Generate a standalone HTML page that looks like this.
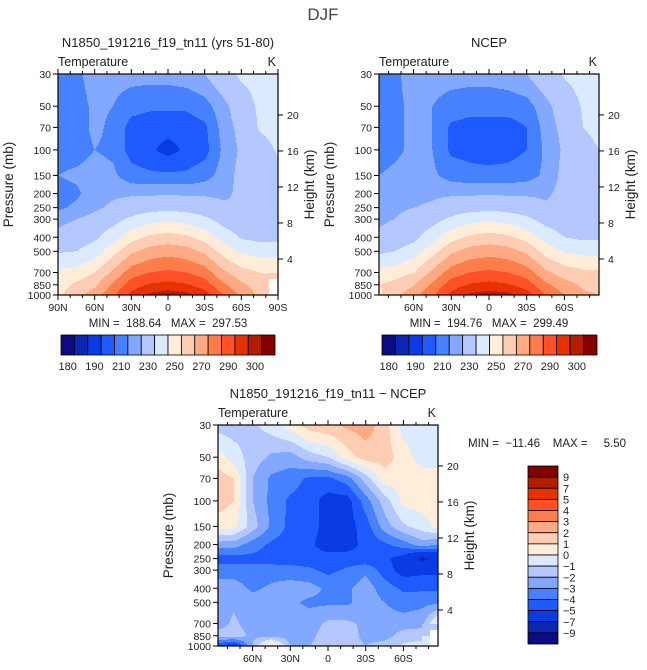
<!DOCTYPE html>
<html><head><meta charset="utf-8">
<style>
body{margin:0;background:#fff;}
svg{display:block;font-family:"Liberation Sans",sans-serif;fill:#222;}
</style></head>
<body>
<svg id="fig" width="647" height="670" viewBox="0 0 647 670" xmlns="http://www.w3.org/2000/svg">
<text x="323" y="20" font-size="17" text-anchor="middle" fill="#444">DJF</text>
</svg>
<script>
// ---- data ----
const pressureLevels=[30,50,70,100,150,200,250,300,400,500,700,850,1000];
const modelLats=[90,75,60,45,30,15,0,-15,-30,-45,-60,-75,-90];
const ncepLats=[87.5,75,60,45,30,15,0,-15,-30,-45,-60,-75,-87.5];
const tempLevels=[185,190,195,200,205,210,220,230,240,250,260,270,280,290,295];
const tempTickLabels=["180","190","210","230","250","270","290","300"];
const diffLevels=[-9,-7,-5,-4,-3,-2,-1,0,1,2,3,4,5,7,9];
const diffTickLabels=["9","7","5","4","3","2","1","0","\u22121","\u22122","\u22123","\u22124","\u22125","\u22127","\u22129"];
const heightTicks=[4,8,12,16,20];
const latTicksModel=["90N","60N","30N","0","30S","60S","90S"];
const latTickValsModel=[90,60,30,0,-30,-60,-90];
const latTicksObs=["60N","30N","0","30S","60S"];
const latTickValsObs=[60,30,0,-30,-60];
const modelT=[
[202,204,207,207,207,207,207,208,210,215,222,224,225],
[203,203,206,205,202,201,201,201,203,208,214,222,224],
[203,203,206,204,198,197,197,197,199,207,212,221,223],
[203,203,205,204,198,196,193,196,198,206,211,216,221],
[205,206,207,206,202,201,201,201,203,207,212,215,217],
[203,204,208,209,209,209,209,209,209,209,211,214,215],
[204,206,209,211,214,216,217,216,214,211,210,211,212],
[208,210,212,216,222,226,228,226,222,216,213,212,212],
[212,214,218,226,236,242,244,242,236,226,219,217,217],
[219,220,225,236,248,254,256,254,248,236,228,226,226],
[232,234,240,252,265,270,272,270,265,252,244,240,240],
[236,242,248,262,275,281,283,281,275,262,252,245,NaN],
[238,246,255,268,283,292,296,293,285,270,258,248,NaN]];
const ncepT=[
[203,204,207,207,207,207,207,208,210,215,221,224,225],
[203,204,206,205,203,202,202,202,203,208,214,221,224],
[203,204,206,205,199,198,198,198,200,207,212,220,223],
[203,204,206,205,199,198,197,198,200,206,211,216,220],
[205,206,207,206,203,202,202,202,203,206,212,216,218],
[207,208,208,209,209,209,209,209,209,209,212,215,216],
[208,209,210,211,214,216,217,216,214,211,211,212,213],
[209,210,212,216,222,226,228,226,222,216,214,213,213],
[211,213,217,226,236,242,244,242,236,226,220,218,218],
[218,220,225,236,248,254,256,254,248,236,229,227,227],
[233,235,240,252,265,270,272,270,265,252,245,242,242],
[240,243,249,262,275,281,283,281,275,262,254,248,246],
[238,247,256,268,283,292,295,293,285,270,260,252,250]];
const diffT=[
[-1.5,-1.5,-1.2,-0.5,0.5,1.5,1.8,2.2,2.5,1.5,-0.5,-0.5,-0.5],
[0.5,-0.5,-1.5,-2.2,-2.5,-1.5,-1,0.5,1.5,1.5,0.5,-0.5,-0.5],
[1.5,1,-2,-3.2,-3.5,-4.2,-4.2,-3.5,-1.5,0.5,0.5,0.5,0.5],
[1.5,1,-2,-3.3,-4.2,-4.5,-5.5,-5.5,-3.5,-1.5,0.3,0.5,0.5],
[0.5,0.3,-1.5,-3.2,-4.3,-4.5,-5.5,-5.5,-4.5,-2.5,-1.2,-0.5,0.3],
[-2.5,-2.5,-3.5,-4.2,-4.5,-4.8,-5.5,-5.3,-4.8,-4.2,-3.5,-2.5,-3],
[-4.5,-4.5,-4.3,-4.5,-4.5,-4.6,-4.6,-4.7,-4.8,-4.8,-5.5,-7.5,-6.5],
[-3.5,-3.5,-3.7,-3.5,-3.6,-3.8,-4.3,-3.8,-3.2,-4.5,-5.5,-5.3,-5.3],
[-2.5,-2.5,-3.2,-2.8,-2.5,-2.6,-3.2,-3.2,-2.5,-3.5,-4.2,-4.2,-4.2],
[-2.5,-2.2,-2.5,-2.8,-2.8,-3.2,-3.2,-3.2,-2.5,-3,-3.5,-3.3,-3.3],
[-2.5,-1.8,-2.5,-2.5,-2.5,-2.5,-1.8,-1.8,-2.2,-2.5,-2.5,-2.3,0.5],
[-1.5,-1.5,-2.2,-2.3,-2.5,-2.3,-1.5,-1.5,-2.3,-2.5,-1.5,-1.5,NaN],
[-5,-6,-2,1.5,-2,-2,-1.5,-1.5,-2,-1.5,-0.8,-0.5,NaN]];
const palette=["#0c0c82","#0a28b4","#0a3ce6","#1e5aff","#4682ff","#82a8ff","#b4c8ff","#dceaff","#ffecd9","#ffcdb4","#ffaa82","#ff7d4b","#ff5028","#e63200","#b41e00","#820000"];
// ---- rendering ----
const svg=document.getElementById('fig');
const NS='http://www.w3.org/2000/svg';
function mk(tag,attrs,parent){const e=document.createElementNS(NS,tag);for(const k in attrs)e.setAttribute(k,attrs[k]);(parent||svg).appendChild(e);return e;}
function txt(x,y,s,size,anchor,parent){const t=mk('text',{x:x,y:y,'font-size':size,'text-anchor':anchor||'middle'},parent);t.textContent=s;return t;}
const P0=Math.log(30),P1=Math.log(1000);
function panel(name,L,T,W,H,latMax,lats,grid,levels,latTicks,latVals,title,minmax,mmPos){
  const g=mk('g',{});
  
  
  const xOf=lat=>L+(latMax-lat)/(2*latMax)*W;
  const yOf=p=>T+(Math.log(p)-P0)/(P1-P0)*H;
  const gx=lats.map(xOf), gy=pressureLevels.map(yOf);
  function sample(px,py){
    let j=0;while(j<gx.length-2&&px>gx[j+1])j++;
    let i=0;while(i<gy.length-2&&py>gy[i+1])i++;
    let fx=(px-gx[j])/(gx[j+1]-gx[j]);fx=Math.max(0,Math.min(1,fx));
    let fy=(py-gy[i])/(gy[i+1]-gy[i]);fy=Math.max(0,Math.min(1,fy));
    const a=grid[i][j],b=grid[i][j+1],c=grid[i+1][j],d=grid[i+1][j+1];
    if([a,b,c,d].some(isNaN)){
      const n=grid[i+(fy>0.5?1:0)][j+(fx>0.5?1:0)];
      if(isNaN(n))return NaN;
      const vals=[a,b,c,d].filter(v=>!isNaN(v));return vals.reduce((s,v)=>s+v,0)/vals.length;
    }
    return a*(1-fx)*(1-fy)+b*fx*(1-fy)+c*(1-fx)*fy+d*fx*fy;
  }
  function idx(v){if(isNaN(v))return -1;let k=0;while(k<levels.length&&v>=levels[k])k++;return k;}
  const fill=mk('g',{'shape-rendering':'crispEdges'},g);
  
  
  for(let y=0;y<H;y++){
    let start=0,cur=idx(sample(L+0.5,T+y+0.5));
    for(let x=1;x<=W;x++){
      const k=x<W?idx(sample(L+x+0.5,T+y+0.5)):-99;
      if(k!==cur){
        if(cur>=0)mk('rect',{x:L+start,y:T+y,width:x-start,height:1,fill:palette[cur]},fill);
        start=x;cur=k;
      }
    }
  }
  const frame=mk('rect',{x:L,y:T,width:W,height:H,fill:'none',stroke:'#000','stroke-width':1.2},g);
  
  
  pressureLevels.forEach(p=>{const y=yOf(p);mk('line',{x1:L-5,x2:L,y1:y,y2:y,stroke:'#000'},g);const t=txt(L-7,y+4,String(p),10.5,'end',g);});
  heightTicks.forEach(z=>{const p=1000*Math.exp(-z/7);const y=yOf(p);mk('line',{x1:L+W,x2:L+W+5,y1:y,y2:y,stroke:'#000'},g);const t=txt(L+W+9,y+4,String(z),10.5,'start',g);});
  for(let lat=-90;lat<=90;lat+=10){if(Math.abs(lat)>latMax+0.01)continue;const x=xOf(lat);const major=lat%30===0;
    mk('line',{x1:x,x2:x,y1:T+H,y2:T+H+(major?5:3),stroke:'#000'},g);mk('line',{x1:x,x2:x,y1:T,y2:T-(major?5:3),stroke:'#000'},g);}
  latTicks.forEach((s,i)=>{const t=txt(xOf(latVals[i]),T+H+16,s,10.5,'middle',g);});
  let t=txt(L,T-8,'Temperature',12.5,'start',g);
  t=txt(L+W-2,T-8,'K',12.5,'end',g);
  t=txt(L+W/2,T-27,title,13,'middle',g);
  t=mk('text',{x:0,y:0,'font-size':13.5,'text-anchor':'middle',transform:`translate(${L-45},${T+H/2}) rotate(-90)`},g);t.textContent='Pressure (mb)';
  
  t=mk('text',{x:0,y:0,'font-size':13.5,'text-anchor':'middle',transform:`translate(${L+W+36},${T+H/2}) rotate(-90)`},g);t.textContent='Height (km)';
  
  t=mk('text',{x:mmPos[0],y:mmPos[1],'font-size':11.5,'text-anchor':mmPos[2],style:'white-space:pre'},g);t.textContent=minmax;
  
}
panel('model-panel',58,74,220,221,90,modelLats,modelT,tempLevels,latTicksModel,latTickValsModel,'N1850_191216_f19_tn11 (yrs 51-80)','MIN =  188.64   MAX =  297.53',[168,327,'middle']);
panel('ncep-panel',379,74,220,221,87.5,ncepLats,ncepT,tempLevels,latTicksObs,latTickValsObs,'NCEP','MIN =  194.76   MAX =  299.49',[489,327,'middle']);
panel('diff-panel',218,425,220,221,87.5,ncepLats,diffT,diffLevels,latTicksObs,latTickValsObs,'N1850_191216_f19_tn11 \u2212 NCEP','MIN =  \u221211.46    MAX =     5.50',[468,447,'start']);
function hbar(name,L,T,W,H){
  const g=mk('g',{});
  const bw=W/palette.length;
  palette.forEach((c,i)=>{const r=mk('rect',{x:L+i*bw,y:T,width:bw,height:H,fill:c,stroke:'#000','stroke-width':0.8},g);});
  tempTickLabels.forEach((s,i)=>{const t=txt(L+bw*(0.5+2*i),T+H+15,s,11,'middle',g);});
}
hbar('model-colorbar',61,335,214,20);
hbar('ncep-colorbar',382,335,215,20);
(function(){
  const L=528,T=466,W=30,H=178;const g=mk('g',{});
  const bh=H/palette.length;
  palette.slice().reverse().forEach((c,i)=>{const r=mk('rect',{x:L,y:T+i*bh,width:W,height:bh,fill:c,stroke:'#000','stroke-width':0.8},g);});
  diffTickLabels.forEach((s,i)=>{const t=txt(L+W+5,T+(i+1)*bh+4,s,11,'start',g);});
})();
</script>
</body></html>
